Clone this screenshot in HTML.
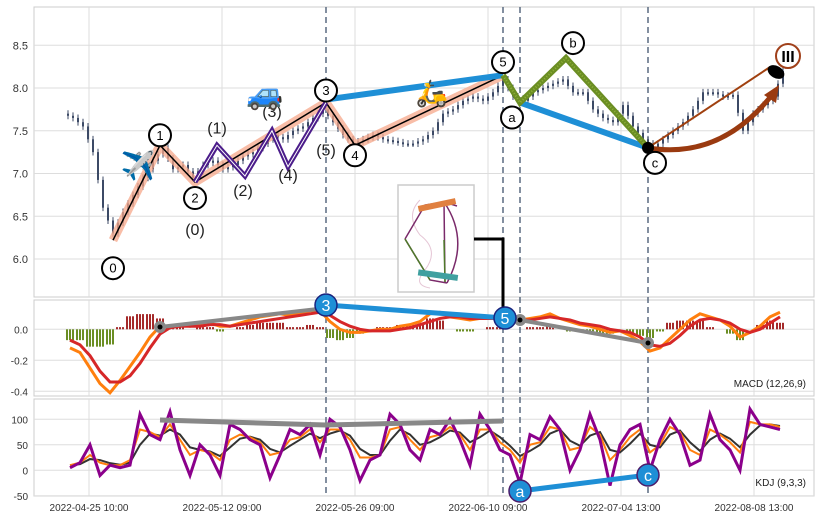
<!DOCTYPE html>
<html><head><meta charset="utf-8"><style>
body{margin:0;background:#fff;}
svg{display:block;font-family:"Liberation Sans",sans-serif;}
</style></head><body>
<svg id="c" width="822" height="520" viewBox="0 0 822 520"></svg>
<script>
const closes=[7.65,7.55,7.25,6.6,6.3,6.55,6.75,6.95,7.15,7.3,7.05,7.1,6.95,7.1,7.15,7.05,7.1,7.2,7.25,7.35,7.45,7.4,7.5,7.55,7.65,7.75,7.6,7.45,7.35,7.4,7.45,7.4,7.38,7.35,7.35,7.4,7.5,7.7,7.75,7.85,7.9,7.85,7.95,8.1,7.9,7.85,7.95,8.0,8.05,8.1,7.95,7.95,7.75,7.65,7.6,7.8,7.55,7.4,7.3,7.4,7.5,7.6,7.75,7.95,7.95,7.9,7.92,7.5,7.7,7.8,7.9,8.2];
const macdLine=[-0.12,-0.15,-0.25,-0.35,-0.41,-0.33,-0.24,-0.15,-0.05,0.02,0.02,0.03,0.02,0.03,0.04,0.02,0.02,0.04,0.06,0.08,0.09,0.1,0.09,0.1,0.12,0.12,0.05,0.0,-0.02,-0.02,-0.01,0.0,0.0,0.02,0.03,0.05,0.1,0.11,0.08,0.07,0.06,0.07,0.08,0.08,0.07,0.06,0.07,0.08,0.1,0.07,0.05,0.03,0.02,0.0,-0.02,-0.01,-0.04,-0.08,-0.14,-0.12,-0.06,0.0,0.06,0.1,0.08,0.06,0.02,-0.05,-0.02,0.02,0.08,0.11];
const signalLine=[-0.07,-0.1,-0.17,-0.27,-0.34,-0.34,-0.3,-0.22,-0.12,-0.03,0.01,0.02,0.02,0.02,0.03,0.03,0.02,0.03,0.04,0.05,0.06,0.07,0.08,0.09,0.1,0.11,0.09,0.05,0.02,0.0,-0.01,-0.01,-0.01,0.0,0.01,0.03,0.05,0.07,0.08,0.08,0.07,0.07,0.07,0.07,0.07,0.06,0.06,0.07,0.08,0.07,0.06,0.04,0.03,0.02,0.0,-0.01,-0.02,-0.05,-0.1,-0.11,-0.09,-0.04,0.02,0.06,0.07,0.06,0.04,0.0,-0.02,0.0,0.04,0.08];
const kdjJ=[5,15,50,-10,10,5,10,110,70,60,115,40,-10,50,30,-10,90,80,60,50,-15,30,80,70,90,30,100,85,40,-20,20,30,110,90,40,20,80,70,100,60,10,110,80,40,30,-25,70,60,105,80,0,40,110,60,-30,50,80,90,0,60,100,70,10,20,110,60,40,0,120,90,85,80];
const kdjK=[10,15,30,15,10,10,20,80,75,65,90,60,30,40,35,20,60,70,65,55,30,35,60,65,80,55,80,80,60,25,25,30,80,85,60,40,65,70,85,70,40,80,80,55,40,15,50,55,85,80,40,45,85,70,20,40,65,80,35,50,85,75,40,30,80,70,55,35,95,90,90,85];
const kdjD=[10,12,22,20,14,11,15,50,72,68,80,70,45,40,37,28,45,62,66,60,42,35,48,60,72,63,72,78,68,42,30,30,58,80,70,50,55,65,78,74,55,65,78,65,48,28,38,50,72,80,58,48,68,75,40,35,52,72,50,45,70,78,55,38,60,72,62,45,70,88,90,87];
const waveLabels=['0','1','2','3','4','5','a','b','c'];
const waveIdx=[4.3,9,12.5,25.6,28.5,43.3,45,49.6,57.8];
const wavePrice=[6.22,7.33,6.9,7.83,7.33,8.15,7.83,8.35,7.3];
const subIdx=[12.5,14.7,17.5,20.2,21.8,25.6];
const subPrice=[6.9,7.33,6.97,7.5,7.08,7.83];
const subLabels=['(0)','(1)','(2)','(3)','(4)','(5)'];
const xTicks=['2022-04-25 10:00','2022-05-12 09:00','2022-05-26 09:00','2022-06-10 09:00','2022-07-04 13:00','2022-08-08 13:00'];
const priceTicks=[6.0,6.5,7.0,7.5,8.0,8.5];
const macdTicks=[0.0,-0.2,-0.4];
const kdjTicks=[100,50,0,-50];

const NS='http://www.w3.org/2000/svg';
const svg=document.getElementById('c');
function el(t,a,p){const e=document.createElementNS(NS,t);for(const k in a)e.setAttribute(k,a[k]);(p||svg).appendChild(e);return e;}
const xs=i=>70+i*10;
const yP=p=>88-(p-8)*85.5;
const yM=v=>329.3-v*155;
const yK=v=>470.3-v*0.51;
const L=34,R=814;
[[7,297],[300,396],[399,496]].forEach((b,k)=>{
 const r=el('rect',{x:L,y:b[0],width:R-L,height:b[1]-b[0],fill:'#fff',stroke:'#ccc'});
 
 
 xTicks.forEach((t,i)=>{const x=89+i*133;el('line',{x1:x,x2:x,y1:b[0],y2:b[1],stroke:'#ddd'});});
});
priceTicks.forEach(v=>{const y=yP(v);el('line',{x1:L,x2:R,y1:y,y2:y,stroke:'#ddd'});const t=el('text',{x:28,y:y+4,'text-anchor':'end','font-size':11,fill:'#333'});t.textContent=v.toFixed(1);});
macdTicks.forEach(v=>{const y=yM(v);el('line',{x1:L,x2:R,y1:y,y2:y,stroke:'#ddd'});const t=el('text',{x:28,y:y+4,'text-anchor':'end','font-size':10,fill:'#333'});t.textContent=v.toFixed(1);});
kdjTicks.forEach(v=>{const y=yK(v);el('line',{x1:L,x2:R,y1:y,y2:y,stroke:'#ddd'});const t=el('text',{x:28,y:y+4,'text-anchor':'end','font-size':10,fill:'#333'});t.textContent=v;});
xTicks.forEach((s,i)=>{const t=el('text',{x:89+i*133,y:511,'text-anchor':'middle','font-size':10,fill:'#333'});t.textContent=s;});
[25.6,43.3,45,57.8].forEach(i=>{const l=el('line',{x1:xs(i),x2:xs(i),y1:7,y2:496,stroke:'#5a6a80','stroke-width':1.5,'stroke-dasharray':'6,4'});});
// candles
closes.forEach((c,i)=>{const o=i?closes[i-1]:c+0.05;const x=xs(i);
 for(let k=0;k<2;k++){const oo=o+(c-o)*k/2, cc=o+(c-o)*(k+1)/2;const xx=x-2+k*5;
  el('line',{x1:xx,x2:xx,y1:yP(Math.max(oo,cc)+0.04),y2:yP(Math.min(oo,cc)-0.04),stroke:'#3c4a66','stroke-width':1});
  const r=el('rect',{x:xx-1,y:yP(Math.max(oo,cc)),width:2,height:Math.max(2,Math.abs(yP(oo)-yP(cc))),fill:'#3c4a66'});
  }
});
const mainPts=waveIdx.slice(0,6).map((i,k)=>xs(i)+','+yP(wavePrice[k])).join(' ');
el('polyline',{points:mainPts,fill:'none',stroke:'#f5a78a','stroke-width':9,'stroke-opacity':0.75,'stroke-linejoin':'round'});
el('polyline',{points:mainPts,fill:'none',stroke:'#000','stroke-width':1.5});
const subPts=subIdx.map((i,k)=>xs(i)+','+yP(subPrice[k])).join(' ');
el('polyline',{points:subPts,fill:'none',stroke:'#4b1c8a','stroke-width':5});
el('polyline',{points:subPts,fill:'none',stroke:'#fff','stroke-width':1});
el('line',{x1:xs(waveIdx[3]),y1:yP(7.83)-3,x2:xs(waveIdx[5]),y2:yP(8.15),stroke:'#1e8fd6','stroke-width':6});
el('line',{x1:xs(waveIdx[6]),y1:yP(7.83),x2:xs(waveIdx[8]),y2:yP(7.3),stroke:'#1e8fd6','stroke-width':6});
const gPts=[5,6,7,8].map(k=>xs(waveIdx[k])+','+yP(wavePrice[k])).join(' ');
el('polyline',{points:gPts,fill:'none',stroke:'#6b8e23','stroke-width':6});
el('polyline',{points:gPts,fill:'none',stroke:'#8fb03a','stroke-width':2,'stroke-dasharray':'1,2'});
const cx=xs(waveIdx[8]),cy=yP(7.3);
el('line',{x1:cx,y1:cy,x2:770,y2:67,stroke:'#a0400f','stroke-width':2});
el('path',{d:`M${cx} ${cy} Q 720 160 772 95`,fill:'none',stroke:'#9a3a10','stroke-width':5});
el('polygon',{points:'779,85 764,95 776,103',fill:'#9a3a10'});
el('circle',{cx:cx,cy:cy,r:6,fill:'#000'});
el('ellipse',{cx:776,cy:72,rx:9,ry:6,fill:'#000',transform:'rotate(30 776 72)'});
const lblOff=[[0,28],[0,-10],[0,16],[0,-12],[0,10],[0,-13],[-8,15],[7,-15],[7,15]];
waveLabels.forEach((s,k)=>{const x=xs(waveIdx[k])+lblOff[k][0],y=yP(wavePrice[k])+lblOff[k][1];
 const g=el('g',{});
 el('circle',{cx:x,cy:y,r:11,fill:'#fff',stroke:'#000','stroke-width':2},g);
 const t=el('text',{x:x,y:y+4.5,'text-anchor':'middle','font-size':13},g);t.textContent=s;});
const subOff=[[0,47],[0,-18],[-2,14],[0,-20],[0,8],[0,47]];
subLabels.forEach((s,k)=>{const t=el('text',{x:xs(subIdx[k])+subOff[k][0],y:yP(subPrice[k])+subOff[k][1]+6,'text-anchor':'middle','font-size':16,fill:'#222'});t.textContent=s;});
const g3=el('g',{});
el('circle',{cx:788,cy:56,r:12,fill:'#fff',stroke:'#a0401a','stroke-width':2},g3);
const t3=el('text',{x:788,y:62,'text-anchor':'middle','font-size':16,'font-weight':'bold'},g3);t3.textContent='III';
[['✈️',138,175,28,'plane-icon'],['🚙',265,104,30,'car-icon'],['🛵',432,102,26,'scooter-icon']].forEach(e=>{const t=el('text',{x:e[1],y:e[2],'text-anchor':'middle','font-size':e[3]});t.textContent=e[0];});
const ins=el('g',{});
el('rect',{x:398,y:185,width:76,height:107,fill:'#fff',stroke:'#ccc','stroke-width':1.5},ins);
el('path',{d:'M420 200 Q405 215 420 235 Q440 250 425 270 Q412 285 430 288',fill:'none',stroke:'#e5c5d5'},ins);
el('path',{d:'M405 239 L425 205 L444 202 L457 206 M405 239 L430 280 L447 283 M444 202 L445 282 M444 202 Q470 240 447 283',fill:'none',stroke:'#7a2a6a','stroke-width':1.5},ins);
el('path',{d:'M405 239 L430 280 M444 240 L445 282',fill:'none',stroke:'#4e7a2a','stroke-width':1.5},ins);
el('rect',{x:418,y:202,width:38,height:6,fill:'#e08040',transform:'rotate(-12 437 205)'},ins);
el('rect',{x:418,y:272,width:40,height:6,fill:'#40a0a0',transform:'rotate(8 437 275)'},ins);
el('polyline',{points:'474,239 503,239 503,312',fill:'none',stroke:'#000','stroke-width':3});
macdLine.forEach((v,i)=>{const h=(v-signalLine[i])*1.4;const y0=yM(0);
 for(let k=0;k<3;k++){
 const r=el('rect',{x:xs(i)-4+k*3,y:Math.min(y0,yM(h)),width:2,height:Math.abs(yM(h)-y0),fill:h>=0?'#a52a2a':'#6b8e23'});
 }});
const ml=el('polyline',{points:macdLine.map((v,i)=>xs(i)+','+yM(v)).join(' '),fill:'none',stroke:'#ff7f0e','stroke-width':3});

const sl=el('polyline',{points:signalLine.map((v,i)=>xs(i)+','+yM(v)).join(' '),fill:'none',stroke:'#d62728','stroke-width':3});

el('line',{x1:160,y1:327,x2:318,y2:309,stroke:'#888','stroke-width':4});
el('line',{x1:520,y1:320,x2:648,y2:343,stroke:'#888','stroke-width':4});
[[160,327],[520,320],[648,343]].forEach(p=>{el('circle',{cx:p[0],cy:p[1],r:6,fill:'#888'});el('circle',{cx:p[0],cy:p[1],r:2.5,fill:'#000'});});
el('line',{x1:326,y1:305,x2:505,y2:318,stroke:'#1e8fd6','stroke-width':5});
[['3',326,305],['5',505,318]].forEach(p=>{const g=el('g',{});el('circle',{cx:p[1],cy:p[2],r:11,fill:'#1e8fd6',stroke:'#1a237e','stroke-width':1.5},g);const t=el('text',{x:p[1],y:p[2]+6,'text-anchor':'middle','font-size':16,fill:'#fff'},g);t.textContent=p[0];});
const mt=el('text',{x:806,y:387,'text-anchor':'end','font-size':10,fill:'#222'});mt.textContent='MACD (12,26,9)';
[[kdjD,'#333','kdj-d-line',2],[kdjK,'#ff7f0e','kdj-k-line',2],[kdjJ,'#8b008b','kdj-j-line',3]].forEach(s=>{const p=el('polyline',{points:s[0].map((v,i)=>xs(i)+','+yK(v)).join(' '),fill:'none',stroke:s[1],'stroke-width':s[3]});});
el('polyline',{points:'160,420 326,425 503,421',fill:'none',stroke:'#888','stroke-width':5});
el('line',{x1:520,y1:491,x2:648,y2:475,stroke:'#1e8fd6','stroke-width':5});
[['a',520,491],['c',648,475]].forEach(p=>{const g=el('g',{});el('circle',{cx:p[1],cy:p[2],r:11,fill:'#1e8fd6',stroke:'#4b1c6a','stroke-width':1.5},g);const t=el('text',{x:p[1],y:p[2]+6,'text-anchor':'middle','font-size':16,fill:'#fff'},g);t.textContent=p[0];});
const kt=el('text',{x:806,y:486,'text-anchor':'end','font-size':10,fill:'#222'});kt.textContent='KDJ (9,3,3)';
</script>
</body></html>
